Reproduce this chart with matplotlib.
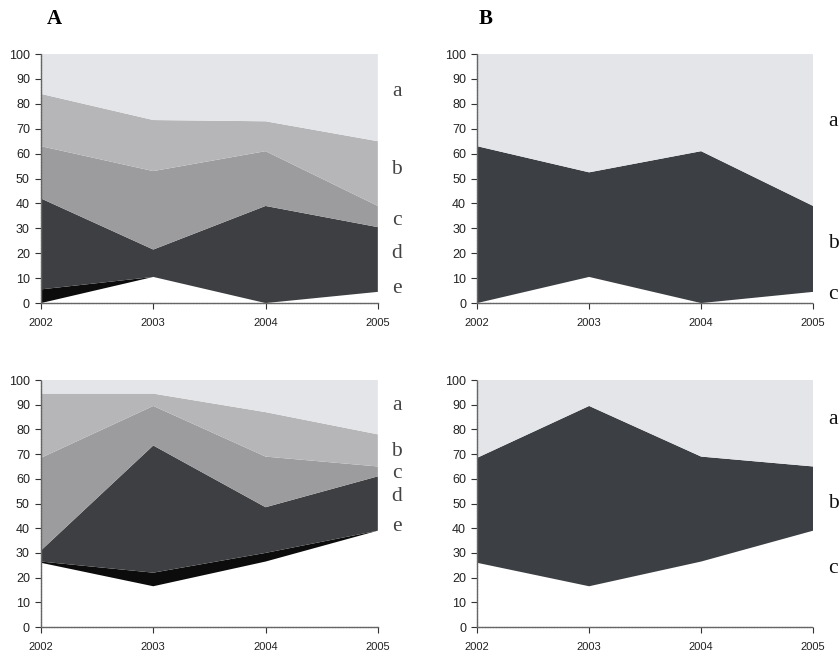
import matplotlib.pyplot as plt
import matplotlib.transforms as mtransforms

# data
years = [2002, 2003, 2004, 2005]

# panel A top (layer thickness, bottom to top; base is the blank part)
a1_base = [0, 10.5, 0, 4.5]
a1_e = [5.5, 0, 0, 0]
a1_d = [36.5, 11, 39, 26]
a1_c = [21, 31.5, 22, 8.5]
a1_b = [21, 20.5, 12, 26]
a1_a = [16, 26.5, 27, 35]

# panel B top
b1_base = [0, 10.5, 0, 4.5]
b1_b = [63, 42, 61, 34.5]
b1_a = [37, 47.5, 39, 61]

# panel A bottom
a2_base = [26, 16.5, 26.5, 39]
a2_e = [0.5, 5.5, 3.5, 0]
a2_d = [4.5, 51.5, 18.5, 22]
a2_c = [37.5, 16, 20.5, 4]
a2_b = [26, 5, 18, 13]
a2_a = [5.5, 5.5, 13, 22]

# panel B bottom
b2_base = [26, 16.5, 26.5, 39]
b2_b = [42.5, 73, 42.5, 26]
b2_a = [31.5, 10.5, 31, 35]

col_a = '#e3e5e9'
col_b = '#b6b6b8'
col_c = '#9c9c9e'
col_d = '#3d3f42'
col_e = '#0c0c0c'
col_dark = '#3c3f43'

fig = plt.figure(figsize=(8.4, 6.56), dpi=100)


def panel(rect, layers, colors, labels, label_y, label_x, label_color):
    ax = fig.add_axes(rect)
    ax.stackplot(years, *layers, colors=colors, linewidth=0)
    ax.set_xlim(2002, 2005)
    ax.set_ylim(0, 100)
    ax.set_xticks(years)
    ax.set_yticks(range(0, 101, 10))
    ax.tick_params(direction='out', length=4, width=0.8, colors='#333333',
                   labelcolor='#222222')
    ax.tick_params(axis='x', pad=7, labelsize=8)
    ax.tick_params(axis='y', pad=4, labelsize=9)
    for lab in ax.get_xticklabels() + ax.get_yticklabels():
        lab.set_fontfamily('Liberation Sans')
    for s in ['top', 'right']:
        ax.spines[s].set_visible(False)
    for s in ['left', 'bottom']:
        ax.spines[s].set_linestyle((0, (1.2, 0.8)))
        ax.spines[s].set_color('#666666')
        ax.spines[s].set_linewidth(1.0)
    trans = mtransforms.blended_transform_factory(ax.transAxes, ax.transData)
    for t, y in zip(labels, label_y):
        ax.text(label_x, y, t, transform=trans, ha='center', va='center',
                fontsize=15.5, family='Liberation Serif', color=label_color,
                clip_on=False)
    return ax


top = [0.0488, 0.538, 0.401, 0.3796]
bot = [0.0488, 0.0442, 0.401, 0.3765]
top_r = [0.568, 0.538, 0.40, 0.3796]
bot_r = [0.568, 0.0442, 0.40, 0.3765]

panel(top, [a1_base, a1_e, a1_d, a1_c, a1_b, a1_a],
      ['white', col_e, col_d, col_c, col_b, col_a],
      ['a', 'b', 'c', 'd', 'e'], [85, 53.5, 33, 20, 6], 1.056, '#444444')
panel(top_r, [b1_base, b1_b, b1_a],
      ['white', col_dark, col_a],
      ['a', 'b', 'c'], [73, 24, 3.5], 1.06, '#111111')
panel(bot, [a2_base, a2_e, a2_d, a2_c, a2_b, a2_a],
      ['white', col_e, col_d, col_c, col_b, col_a],
      ['a', 'b', 'c', 'd', 'e'], [89.5, 71, 62, 53, 40.5], 1.056, '#444444')
panel(bot_r, [b2_base, b2_b, b2_a],
      ['white', col_dark, col_a],
      ['a', 'b', 'c'], [84, 50, 23.5], 1.06, '#111111')

fig.text(54 / 840, 1 - 19 / 656, 'A', ha='center', va='center', fontsize=15,
         fontweight='bold', family='Liberation Serif')
fig.text(486 / 840, 1 - 19 / 656, 'B', ha='center', va='center', fontsize=15,
         fontweight='bold', family='Liberation Serif')

fig.savefig('out.png', dpi=100)
